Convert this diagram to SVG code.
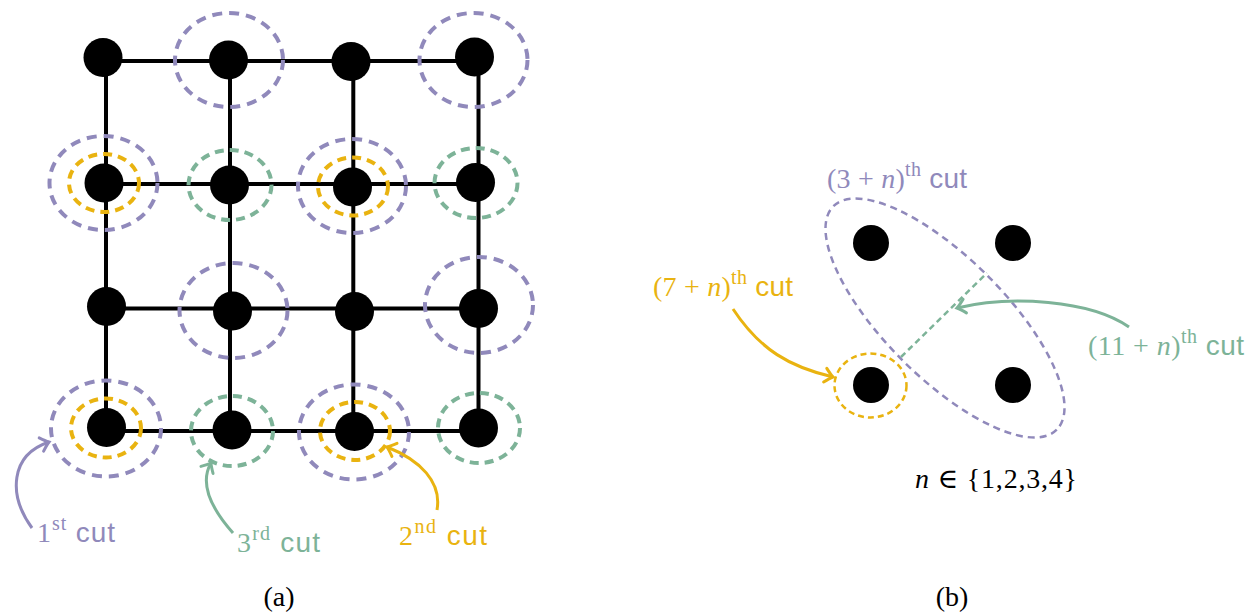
<svg xmlns="http://www.w3.org/2000/svg" width="1257" height="615" viewBox="0 0 1257 615">
<style>
.dot{fill:#000}
.edge{stroke:#000;stroke-width:4;fill:none}
.cp{fill:none;stroke:#9089bb;stroke-width:4;stroke-dasharray:10 7}
.cy{fill:none;stroke:#e9b310;stroke-width:4;stroke-dasharray:9 6}
.cg{fill:none;stroke:#7db398;stroke-width:4;stroke-dasharray:9 6}
.tp{fill:#9089bb}.ty{fill:#e9b310}.tg{fill:#7db398}
.serif{font-family:"Liberation Serif","DejaVu Serif",serif;font-size:28px}
.sans{font-family:"Liberation Sans",Arial,sans-serif}
.sup{font-size:20px}
.ap{fill:none;stroke:#9089bb;stroke-width:3}
.ay{fill:none;stroke:#e9b310;stroke-width:3}
.ag{fill:none;stroke:#7db398;stroke-width:3}
</style>
<defs>
<marker id="mp" markerUnits="userSpaceOnUse" markerWidth="20" markerHeight="20" refX="0" refY="0" viewBox="-12 -10 14 20" orient="auto"><path d="M-8,-7 Q-3,-2 0,0 Q-3,2 -8,7" fill="none" stroke="#9089bb" stroke-width="3" stroke-linecap="round"/></marker>
<marker id="my" markerUnits="userSpaceOnUse" markerWidth="20" markerHeight="20" refX="0" refY="0" viewBox="-12 -10 14 20" orient="auto"><path d="M-8,-7 Q-3,-2 0,0 Q-3,2 -8,7" fill="none" stroke="#e9b310" stroke-width="3" stroke-linecap="round"/></marker>
<marker id="mg" markerUnits="userSpaceOnUse" markerWidth="20" markerHeight="20" refX="0" refY="0" viewBox="-12 -10 14 20" orient="auto"><path d="M-8,-7 Q-3,-2 0,0 Q-3,2 -8,7" fill="none" stroke="#7db398" stroke-width="3" stroke-linecap="round"/></marker>
</defs>
<rect width="1257" height="615" fill="#fff"/>

<g id="edges">
<line class="edge" x1="103" y1="61" x2="478" y2="61"/>
<line class="edge" x1="104" y1="184" x2="478" y2="184"/>
<line class="edge" x1="106" y1="308.5" x2="478" y2="308.5"/>
<line class="edge" x1="106" y1="431" x2="478" y2="431"/>
<line class="edge" x1="106" y1="58" x2="106" y2="431"/>
<line class="edge" x1="230" y1="60" x2="230" y2="431"/>
<line class="edge" x1="353.3" y1="61" x2="353.3" y2="431"/>
<line class="edge" x1="478.5" y1="57" x2="478.5" y2="431"/>
</g>

<g id="a-r1c1"><circle class="dot" cx="103" cy="57.5" r="19.5"/></g>
<g id="a-r1c2"><circle class="dot" cx="228.5" cy="60" r="19.5"/><ellipse class="cp" cx="229" cy="60" rx="54" ry="47"/></g>
<g id="a-r1c3"><circle class="dot" cx="351" cy="61.5" r="19.5"/></g>
<g id="a-r1c4"><circle class="dot" cx="474.5" cy="57" r="19.5"/><ellipse class="cp" cx="473.5" cy="60" rx="54" ry="47"/></g>

<g id="a-r2c1"><circle class="dot" cx="104" cy="183" r="19.5"/><ellipse class="cp" cx="103.5" cy="183" rx="54" ry="47"/><ellipse class="cy" cx="104" cy="183" rx="35" ry="29"/></g>
<g id="a-r2c2"><circle class="dot" cx="229.5" cy="185" r="19.5"/><ellipse class="cg" cx="230" cy="185" rx="41.5" ry="35"/></g>
<g id="a-r2c3"><circle class="dot" cx="352.5" cy="187" r="19.5"/><ellipse class="cp" cx="352" cy="186" rx="54" ry="47"/><ellipse class="cy" cx="353" cy="186.5" rx="35" ry="29"/></g>
<g id="a-r2c4"><circle class="dot" cx="475.5" cy="182.5" r="19.5"/><ellipse class="cg" cx="476" cy="183" rx="41.5" ry="35"/></g>

<g id="a-r3c1"><circle class="dot" cx="106.5" cy="306.5" r="19.5"/></g>
<g id="a-r3c2"><circle class="dot" cx="232.5" cy="311" r="19.5"/><ellipse class="cp" cx="233.5" cy="310.5" rx="54" ry="47.5"/></g>
<g id="a-r3c3"><circle class="dot" cx="354.5" cy="311.5" r="19.5"/></g>
<g id="a-r3c4"><circle class="dot" cx="478.5" cy="308.5" r="19.5"/><ellipse class="cp" cx="479" cy="305" rx="54" ry="48"/></g>

<g id="a-r4c1"><circle class="dot" cx="106.5" cy="427.5" r="19.5"/><ellipse class="cp" cx="106" cy="428.5" rx="55" ry="48"/><ellipse class="cy" cx="106" cy="428" rx="35" ry="29.5"/></g>
<g id="a-r4c2"><circle class="dot" cx="232" cy="430" r="19.5"/><ellipse class="cg" cx="232" cy="431" rx="41" ry="35"/></g>
<g id="a-r4c3"><circle class="dot" cx="354.5" cy="431.5" r="19.5"/><ellipse class="cp" cx="354" cy="432" rx="55" ry="47.5"/><ellipse class="cy" cx="355" cy="431" rx="35" ry="29"/></g>
<g id="a-r4c4"><circle class="dot" cx="478.5" cy="428" r="19.5"/><ellipse class="cg" cx="479" cy="428" rx="41" ry="35"/></g>

<g id="b-cuts">
<ellipse cx="945" cy="318" rx="158" ry="60" transform="rotate(45 945 318)" fill="none" stroke="#9089bb" stroke-width="2.5" stroke-dasharray="7 5"/>
<line x1="901" y1="357" x2="987" y2="273" stroke="#7db398" stroke-width="2.5" stroke-dasharray="6 4"/>
</g>
<g id="b-n1"><circle class="dot" cx="871" cy="243" r="18"/></g>
<g id="b-n2"><circle class="dot" cx="1013" cy="243" r="18"/></g>
<g id="b-n3"><circle class="dot" cx="871" cy="385" r="18"/><ellipse cx="870.5" cy="385.5" rx="36" ry="32" fill="none" stroke="#e9b310" stroke-width="2.5" stroke-dasharray="6 4"/></g>
<g id="b-n4"><circle class="dot" cx="1013" cy="385" r="18"/></g>

<g id="arrows">
<path class="ap" d="M32,528 C8,495 10,455 49,442" marker-end="url(#mp)"/>
<path class="ag" d="M233,533 C210,507 200,482 211,463" marker-end="url(#mg)"/>
<path class="ay" d="M437,510 C442,482 420,460 387,447" marker-end="url(#my)"/>
<path class="ay" d="M733,309 C760,350 790,367 833,377" stroke-width="2.5" marker-end="url(#my)"/>
<path class="ag" d="M1129,327 C1090,300 1010,295 957,308" stroke-width="2.5" marker-end="url(#mg)"/>
</g>

<g id="labels">
<text class="serif tp" x="37" y="542" textLength="78">1<tspan class="sup" dy="-12">st</tspan><tspan class="sans" dy="12"> cut</tspan></text>
<text class="serif tg" x="237" y="552" textLength="83">3<tspan class="sup" dy="-12">rd</tspan><tspan class="sans" dy="12"> cut</tspan></text>
<text class="serif ty" x="399" y="545" textLength="88">2<tspan class="sup" dy="-12">nd</tspan><tspan class="sans" dy="12"> cut</tspan></text>

<text class="serif tp" x="827" y="188" textLength="140">(3 + <tspan font-style="italic">n</tspan>)<tspan class="sup" dy="-12">th</tspan><tspan class="sans" dy="12"> cut</tspan></text>
<text class="serif ty" x="653" y="296" textLength="140">(7 + <tspan font-style="italic">n</tspan>)<tspan class="sup" dy="-12">th</tspan><tspan class="sans" dy="12"> cut</tspan></text>
<text class="serif tg" x="1088" y="355" textLength="156">(11 + <tspan font-style="italic">n</tspan>)<tspan class="sup" dy="-12">th</tspan><tspan class="sans" dy="12"> cut</tspan></text>
<text class="serif" x="915" y="488" textLength="162" fill="#000"><tspan font-style="italic">n</tspan> ∈ {1,2,3,4}</text>

<text class="serif" x="279" y="606" text-anchor="middle" fill="#000">(a)</text>
<text class="serif" x="952" y="606" text-anchor="middle" fill="#000">(b)</text>
</g>
</svg>
